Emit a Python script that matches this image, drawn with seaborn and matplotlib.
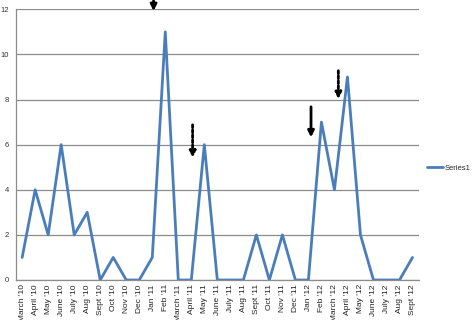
import matplotlib
matplotlib.use("Agg")
import matplotlib.pyplot as plt
import seaborn as sns
import pandas as pd

MONTHS = [
    "March '10", "April '10", "May '10", "June '10", "July '10", "Aug '10",
    "Sept '10", "Oct '10", "Nov '10", "Dec '10", "Jan '11", "Feb '11",
    "March '11", "April '11", "May '11", "June '11", "July '11", "Aug '11",
    "Sept '11", "Oct '11", "Nov '11", "Dec '11", "Jan '12", "Feb '12",
    "March '12", "April '12", "May '12", "June '12", "July '12", "Aug '12",
    "Sept '12",
]
SERIES1 = [1, 4, 2, 6, 2, 3, 0, 1, 0, 0, 1, 11, 0, 0, 6, 0, 0, 0, 2, 0, 2, 0,
           0, 7, 4, 9, 2, 0, 0, 0, 1]
Y_TICKS = [0, 2, 4, 6, 8, 10, 12]

# arrows: (category index, start value, end value, style)
ARROWS = [
    (10.1, 12.5, 11.8, "solid"),
    (13.1, 7.0, 5.3, "dotted"),
    (22.2, 7.8, 6.2, "solid"),
    (24.3, 9.4, 7.9, "dotted"),
]

df = pd.DataFrame({"pos": range(len(MONTHS)), "value": SERIES1})

sns.set_style("white")
plt.rcParams["font.family"] = ["Liberation Sans", "DejaVu Sans"]

fig = plt.figure(figsize=(4.74, 3.2), dpi=100)
ax = fig.add_axes([0.033, 0.125, 0.851, 0.846])

sns.lineplot(data=df, x="pos", y="value", ax=ax, color="#4A7EBB",
             linewidth=2.0, label="Series1")

ax.set_xlim(-0.5, len(MONTHS) - 0.5)
ax.set_ylim(0, 12)
ax.set_yticks(Y_TICKS)
ax.set_yticklabels([str(t) for t in Y_TICKS], fontsize=5.5, color="#333333")
ax.set_xticks(range(len(MONTHS)))
ax.set_xticklabels(MONTHS, rotation=90, fontsize=6, color="#222222")
ax.set_xticks([i - 0.5 for i in range(len(MONTHS) + 1)], minor=True)
ax.tick_params(axis="x", which="major", length=0, pad=3)
ax.tick_params(axis="x", which="minor", length=3, color="#888888", width=0.8)
ax.tick_params(axis="y", which="major", length=3, color="#888888", width=0.8, pad=2)
ax.set_xlabel("")
ax.set_ylabel("")

ax.grid(axis="y", color="#8C8C8C", linewidth=0.9)
ax.set_axisbelow(True)
for side in ["top", "right"]:
    ax.spines[side].set_visible(False)
for side in ["left", "bottom"]:
    ax.spines[side].set_color("#8C8C8C")
    ax.spines[side].set_linewidth(0.9)

for x, y0, y1, style in ARROWS:
    ls = "solid" if style == "solid" else (0, (1, 0.8))
    ax.annotate("", xy=(x, y1), xytext=(x, y0),
                arrowprops=dict(arrowstyle="-|>", color="black", lw=2.0,
                                linestyle=ls, mutation_scale=9),
                annotation_clip=False)

ax.legend(loc="center left", bbox_to_anchor=(0.9, 0.475),
          bbox_transform=fig.transFigure, frameon=False, fontsize=5.5,
          handlelength=2.2, handletextpad=0.2, borderaxespad=0,
          borderpad=0)

fig.savefig("out.png", dpi=100)
